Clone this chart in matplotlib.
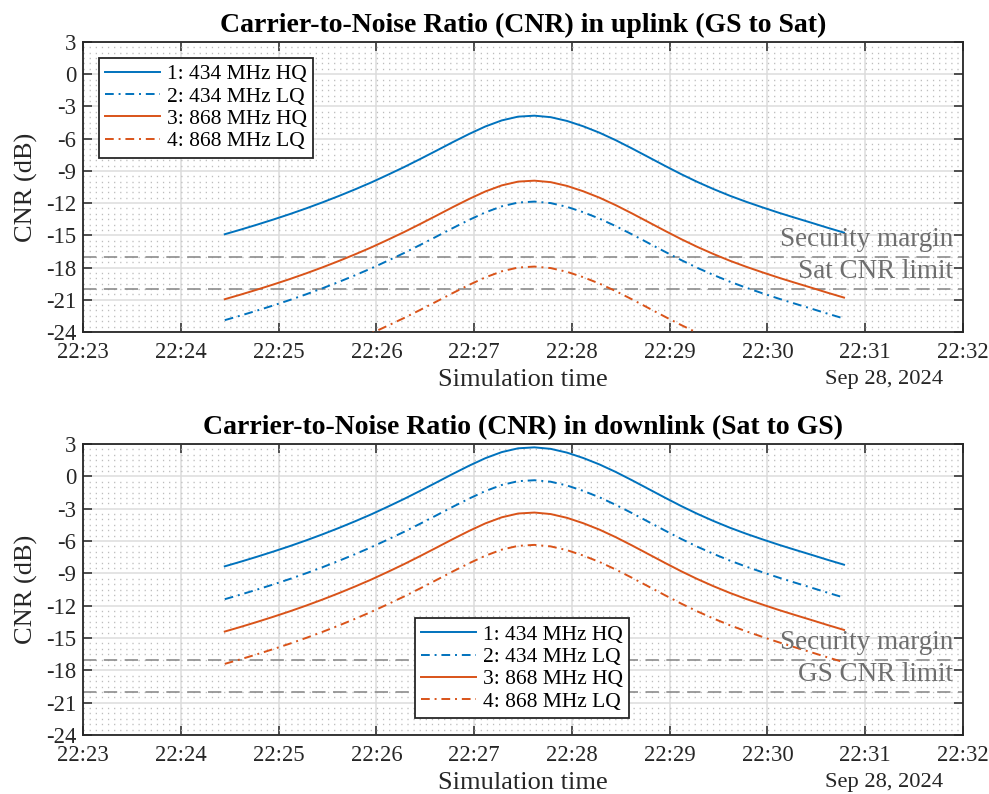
import numpy as np
import matplotlib
matplotlib.use("Agg")
import matplotlib.pyplot as plt
import matplotlib.dates as mdates

# ---------------- data ----------------
date_str = "2024-09-28"
date_label = "Sep 28, 2024"
time_strs = ["22:24:27", "22:24:37", "22:24:47", "22:24:57", "22:25:07", "22:25:17", "22:25:27",
             "22:25:37", "22:25:47", "22:25:57", "22:26:07", "22:26:17", "22:26:27", "22:26:37",
             "22:26:47", "22:26:57", "22:27:07", "22:27:17", "22:27:27", "22:27:37", "22:27:47",
             "22:27:57", "22:28:07", "22:28:17", "22:28:27", "22:28:37", "22:28:47", "22:28:57",
             "22:29:07", "22:29:17", "22:29:27", "22:29:37", "22:29:47", "22:29:57", "22:30:07",
             "22:30:17", "22:30:27", "22:30:37", "22:30:47"]

series_labels = ["1: 434 MHz HQ", "2: 434 MHz LQ", "3: 868 MHz HQ", "4: 868 MHz LQ"]

up_434_hq = [-14.90, -14.46, -14.00, -13.52, -13.02, -12.49, -11.93, -11.34, -10.72, -10.07,
             -9.37, -8.65, -7.89, -7.11, -6.32, -5.56, -4.86, -4.30, -3.95, -3.86,
             -4.00, -4.35, -4.85, -5.45, -6.15, -6.92, -7.72, -8.52, -9.30, -10.03,
             -10.70, -11.32, -11.88, -12.40, -12.90, -13.37, -13.83, -14.30, -14.75]
up_434_lq = [-22.90, -22.46, -22.00, -21.52, -21.02, -20.49, -19.93, -19.34, -18.72, -18.07,
             -17.37, -16.65, -15.89, -15.11, -14.32, -13.56, -12.86, -12.30, -11.95, -11.86,
             -12.00, -12.35, -12.85, -13.45, -14.15, -14.92, -15.72, -16.52, -17.30, -18.03,
             -18.70, -19.32, -19.88, -20.40, -20.90, -21.37, -21.83, -22.30, -22.75]
up_868_hq = [-20.95, -20.51, -20.05, -19.57, -19.07, -18.54, -17.98, -17.39, -16.77, -16.12,
             -15.42, -14.70, -13.94, -13.16, -12.37, -11.61, -10.91, -10.35, -10.00, -9.91,
             -10.05, -10.40, -10.90, -11.50, -12.20, -12.97, -13.77, -14.57, -15.35, -16.08,
             -16.75, -17.37, -17.93, -18.45, -18.95, -19.42, -19.88, -20.35, -20.80]
up_868_lq = [-28.95, -28.51, -28.05, -27.57, -27.07, -26.54, -25.98, -25.39, -24.77, -24.12,
             -23.42, -22.70, -21.94, -21.16, -20.37, -19.61, -18.91, -18.35, -18.00, -17.91,
             -18.05, -18.40, -18.90, -19.50, -20.20, -20.97, -21.77, -22.57, -23.35, -24.08,
             -24.75, -25.37, -25.93, -26.45, -26.95, -27.42, -27.88, -28.35, -28.80]

dn_434_hq = [-8.35, -7.91, -7.45, -6.97, -6.47, -5.94, -5.38, -4.79, -4.17, -3.52,
             -2.82, -2.10, -1.34, -0.56, 0.23, 0.99, 1.69, 2.25, 2.60, 2.69,
             2.55, 2.20, 1.70, 1.10, 0.40, -0.37, -1.17, -1.97, -2.75, -3.48,
             -4.15, -4.77, -5.33, -5.85, -6.35, -6.82, -7.28, -7.75, -8.20]
dn_434_lq = [-11.40, -10.96, -10.50, -10.02, -9.52, -8.99, -8.43, -7.84, -7.22, -6.57,
             -5.87, -5.15, -4.39, -3.61, -2.82, -2.06, -1.36, -0.80, -0.45, -0.36,
             -0.50, -0.85, -1.35, -1.95, -2.65, -3.42, -4.22, -5.02, -5.80, -6.53,
             -7.20, -7.82, -8.38, -8.90, -9.40, -9.87, -10.33, -10.80, -11.25]
dn_868_hq = [-14.40, -13.96, -13.50, -13.02, -12.52, -11.99, -11.43, -10.84, -10.22, -9.57,
             -8.87, -8.15, -7.39, -6.61, -5.82, -5.06, -4.36, -3.80, -3.45, -3.36,
             -3.50, -3.85, -4.35, -4.95, -5.65, -6.42, -7.22, -8.02, -8.80, -9.53,
             -10.20, -10.82, -11.38, -11.90, -12.40, -12.87, -13.33, -13.80, -14.25]
dn_868_lq = [-17.40, -16.96, -16.50, -16.02, -15.52, -14.99, -14.43, -13.84, -13.22, -12.57,
             -11.87, -11.15, -10.39, -9.61, -8.82, -8.06, -7.36, -6.80, -6.45, -6.36,
             -6.50, -6.85, -7.35, -7.95, -8.65, -9.42, -10.22, -11.02, -11.80, -12.53,
             -13.20, -13.82, -14.38, -14.90, -15.40, -15.87, -16.33, -16.80, -17.25]

security_margin = -17
sat_limit = -20
gs_limit = -20

titles = ["Carrier-to-Noise Ratio (CNR) in uplink (GS to Sat)",
          "Carrier-to-Noise Ratio (CNR) in downlink (Sat to GS)"]
limit_labels = ["Sat CNR limit", "GS CNR limit"]

ytick_vals = [3, 0, -3, -6, -9, -12, -15, -18, -21, -24]
ytick_labels = ["3", "0", "-3", "-6", "-9", "-12", "-15", "-18", "-21", "-24"]
xlim_strs = ["22:23:00", "22:32:00"]

# ---------------- style ----------------
plt.rcParams['font.family'] = ['Liberation Serif', 'DejaVu Serif']

blue = '#0072BD'
orange = '#D95319'
axcol = '#262626'
dashdot = (0, (4.5, 2.5, 1.0, 2.5))

times = np.array([f"{date_str}T{t}" for t in time_strs], dtype='datetime64[s]')
xlim = np.array([f"{date_str}T{t}" for t in xlim_strs], dtype='datetime64[s]')

fig = plt.figure(figsize=(9.89, 7.94), dpi=100)
ax_top = fig.add_axes([0.0839, 0.5819, 0.8898, 0.3652])
ax_bot = fig.add_axes([0.0839, 0.0743, 0.8898, 0.3665])

panels = [
    (ax_top, [up_434_hq, up_434_lq, up_868_hq, up_868_lq], titles[0], limit_labels[0],
     sat_limit, dict(loc='upper left', bbox_to_anchor=(0.018, 0.945))),
    (ax_bot, [dn_434_hq, dn_434_lq, dn_868_hq, dn_868_lq], titles[1], limit_labels[1],
     gs_limit, dict(loc='lower left', bbox_to_anchor=(0.377, 0.058))),
]

colors = [blue, blue, orange, orange]
styles = ['-', dashdot, '-', dashdot]

for ax, ser, title, lim_label, lim_val, legkw in panels:
    ax.set_xlim(xlim[0], xlim[1])
    ax.set_ylim(-24, 3)
    ax.set_yticks(ytick_vals)
    ax.set_yticklabels(ytick_labels)
    ax.set_yticks(np.arange(-24, 3.01, 0.5), minor=True)
    ax.xaxis.set_major_locator(mdates.MinuteLocator())
    ax.xaxis.set_major_formatter(mdates.DateFormatter('%H:%M'))

    ax.grid(True, which='major', color='#dcdcdc', linewidth=1.1, linestyle='-')
    ax.grid(True, which='minor', axis='y', color='#bdbdbd', linewidth=1.0,
            linestyle=(0, (0.9, 3.5)))
    ax.set_axisbelow(True)

    handles = []
    for vals, c, ls, lab in zip(ser, colors, styles, series_labels):
        h, = ax.plot(times, vals, color=c, linestyle=ls, linewidth=1.4, label=lab, zorder=3)
        handles.append(h)

    ax.axhline(security_margin, color='#8c8c8c', linewidth=1.2, linestyle=(0, (8, 4.5)), zorder=2)
    ax.axhline(lim_val, color='#8c8c8c', linewidth=1.2, linestyle=(0, (8, 4.5)), zorder=2)
    ax.text(0.989, security_margin + 1.0, "Security margin", transform=ax.get_yaxis_transform(),
            ha='right', va='baseline', fontsize=19.5, color='#6e6e6e', zorder=4)
    ax.text(0.989, lim_val + 1.0, lim_label, transform=ax.get_yaxis_transform(),
            ha='right', va='baseline', fontsize=19.5, color='#6e6e6e', zorder=4)

    for sp in ax.spines.values():
        sp.set_color(axcol)
        sp.set_linewidth(1.3)
    ax.tick_params(which='major', direction='in', length=6.5, width=1.1, color=axcol,
                   labelsize=16.3, top=True, right=True, labelcolor='#262626')
    ax.tick_params(axis='x', which='major', pad=7)
    ax.tick_params(axis='y', which='major', pad=5)
    ax.tick_params(which='minor', length=0, left=False, right=False)

    ax.set_title(title, fontsize=20, fontweight='bold', pad=7, color='black')
    ax.set_ylabel("CNR (dB)", fontsize=19, color='#262626')
    ax.yaxis.set_label_coords(-0.064, 0.5)
    ax.yaxis.label.set_va('center')
    ax.set_xlabel("Simulation time", fontsize=19, color='#262626')
    ax.xaxis.set_label_coords(0.5, -0.164)
    ax.xaxis.label.set_va('center')
    ax.text(0.977, -0.164, date_label, transform=ax.transAxes, ha='right', va='center',
            fontsize=16.2, color='#262626')

    leg = ax.legend(handles=handles, fontsize=15.5, handlelength=2.55, handletextpad=0.3,
                    labelspacing=0.1, borderpad=0.3, borderaxespad=0, fancybox=False,
                    framealpha=1, edgecolor=axcol, **legkw)
    leg.get_frame().set_linewidth(1.3)
    leg.set_zorder(5)

fig.savefig("out.png", dpi=100)
